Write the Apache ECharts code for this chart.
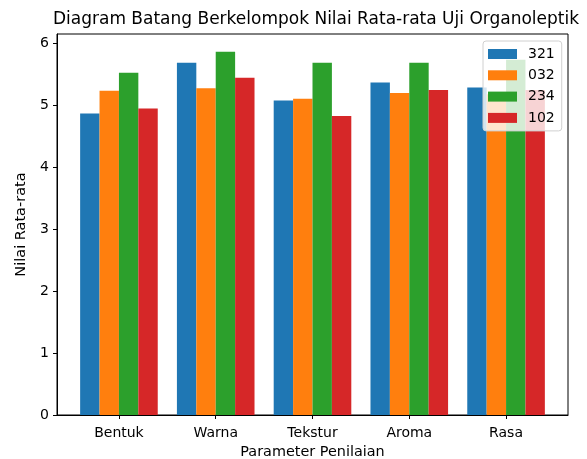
<!DOCTYPE html>
<html>
<head>
<meta charset="utf-8">
<script src="https://cdn.jsdelivr.net/npm/echarts@6/dist/echarts.min.js"></script>
<style>
	html, body { margin: 0; padding: 0; background: #fff; }
	#chart { width: 587px; height: 459px; }
</style>
</head>
<body>
<div id="chart"></div>
<script>
const categories = ['Bentuk', 'Warna', 'Tekstur', 'Aroma', 'Rasa']
const seriesNames = ['321', '032', '234', '102']
const s321 = [4.87, 5.69, 5.08, 5.37, 5.29]
const s032 = [5.24, 5.28, 5.11, 5.20, 5.18]
const s234 = [5.53, 5.87, 5.69, 5.69, 5.74]
const s102 = [4.95, 5.45, 4.83, 5.25, 5.25]
const yTicks = [0, 1, 2, 3, 4, 5, 6]

const colorList = ['#1f77b4', '#ff7f0e', '#2ca02c', '#d62728']
const font = 'DejaVu Sans'

let allValues = [s321, s032, s234, s102]
let series = []
allValues.forEach((vals, index) => {
	series.push({
		name: seriesNames[index],
		type: 'bar',
		barWidth: 19.4,
		barGap: '0%',
		itemStyle: { color: colorList[index] },
		data: vals.map((v, i) => [i, v]),
	})
})

const option = {
	animation: false,
	title: {
		text: 'Diagram Batang Berkelompok Nilai Rata-rata Uji Organoleptik',
		left: 311,
		textAlign: 'center',
		top: 6.5,
		textStyle: { fontFamily: font, fontSize: 17, fontWeight: 'normal', color: '#000' },
	},
	legend: {
		data: seriesNames,
		orient: 'vertical',
		left: 483,
		top: 41,
		icon: 'rect',
		itemWidth: 29,
		itemHeight: 10,
		itemGap: 7.3,
		padding: [6, 7, 6, 5],
		backgroundColor: 'rgba(255,255,255,0.8)',
		borderColor: '#d0d0d0',
		borderWidth: 1,
		borderRadius: 3,
		textStyle: { fontFamily: font, fontSize: 14, lineHeight: 14, color: '#000', padding: [0, 0, 0, 6] },
	},
	grid: {
		left: 57,
		right: 19,
		top: 34,
		bottom: 44,
		outerBoundsMode: 'none',
		show: true,
		borderColor: '#000',
		borderWidth: 1,
		backgroundColor: 'transparent',
	},
	xAxis: {
		type: 'value',
		min: -0.64,
		max: 4.64,
		name: 'Parameter Penilaian',
		nameLocation: 'middle',
		nameGap: 30,
		nameTextStyle: { fontFamily: font, fontSize: 14.4, color: '#000' },
		axisLine: { show: true, onZero: false, lineStyle: { color: '#000' } },
		axisTick: { show: true, length: 4, customValues: [0, 1, 2, 3, 4], lineStyle: { color: '#000' } },
		axisLabel: {
			customValues: [0, 1, 2, 3, 4],
			formatter: (v) => categories[Math.round(v)],
			fontFamily: font,
			fontSize: 14,
			color: '#000',
			margin: 11,
		},
		splitLine: { show: false },
	},
	yAxis: {
		type: 'value',
		min: 0,
		max: 6.155,
		name: 'Nilai Rata-rata',
		nameLocation: 'middle',
		nameGap: 26,
		nameTextStyle: { fontFamily: font, fontSize: 14.5, color: '#000' },
		axisLine: { show: true, onZero: false, lineStyle: { color: '#000' } },
		axisTick: { show: true, length: 4, customValues: yTicks, lineStyle: { color: '#000' } },
		axisLabel: {
			customValues: yTicks,
			fontFamily: font,
			fontSize: 14,
			color: '#000',
			margin: 8,
		},
		splitLine: { show: false },
	},
	series: series,
}

let myChart = echarts.init(document.getElementById('chart'))
myChart.setOption(option)
</script>
</body>
</html>
